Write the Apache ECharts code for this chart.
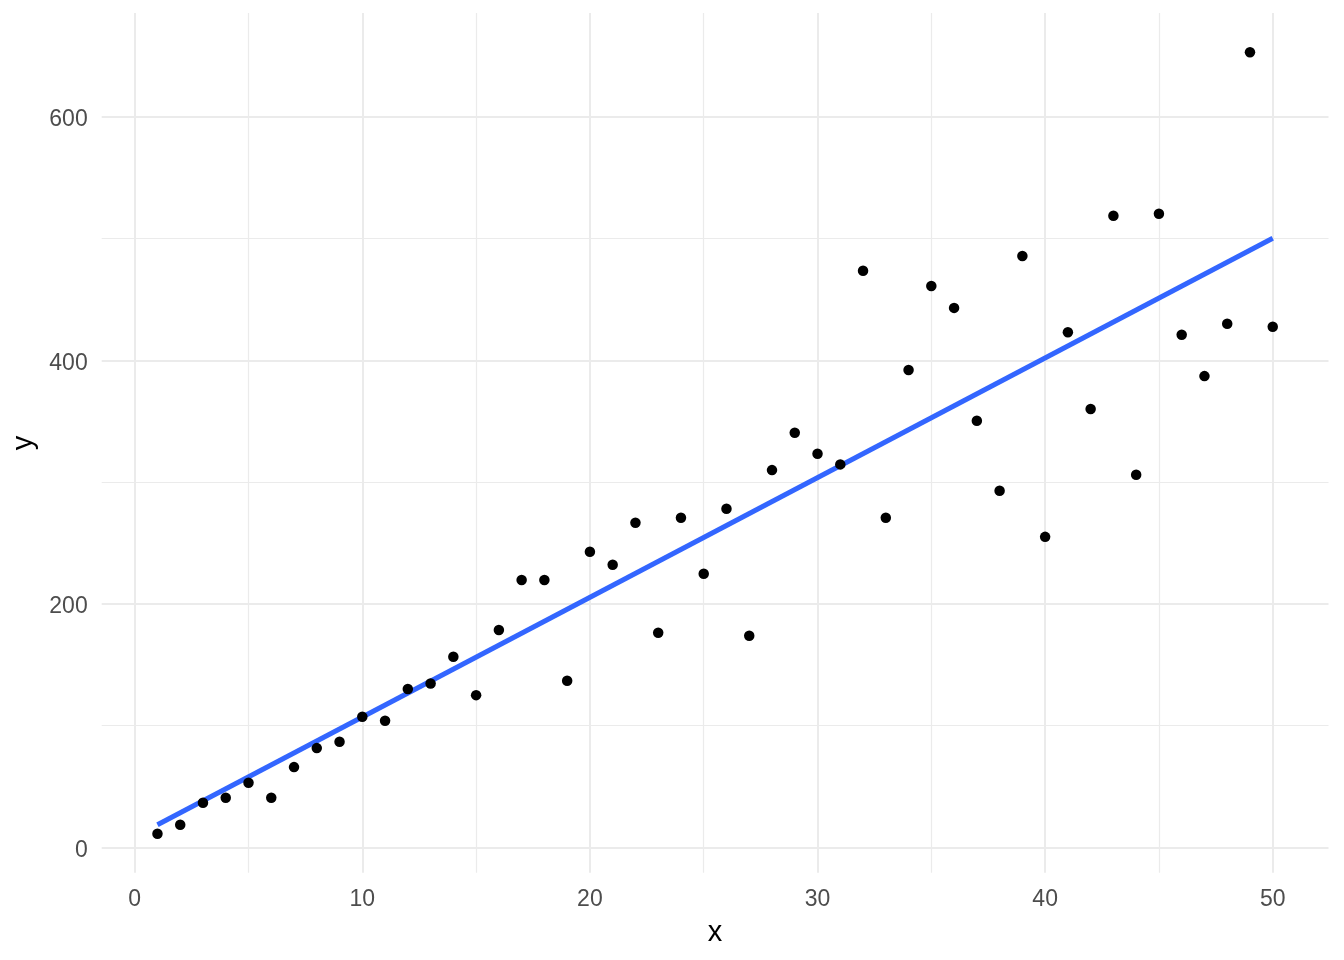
<!DOCTYPE html>
<html>
<head>
<meta charset="utf-8">
<script src="https://cdn.jsdelivr.net/npm/echarts@6/dist/echarts.min.js"></script>
<style>
  html, body { margin: 0; padding: 0; background: #fff; }
  #main { width: 1344px; height: 960px; }
</style>
</head>
<body>
<div id="main"></div>
<script>
// data
var xs = [1, 2, 3, 4, 5, 6, 7, 8, 9, 10,
  11, 12, 13, 14, 15, 16, 17, 18, 19, 20,
  21, 22, 23, 24, 25, 26, 27, 28, 29, 30,
  31, 32, 33, 34, 35, 36, 37, 38, 39, 40,
  41, 42, 43, 44, 45, 46, 47, 48, 49, 50];
var ys = [11.2, 18.6, 36.6, 40.7, 53.1, 40.7, 65.9, 81.5, 86.7, 107.3,
  104, 130, 134.5, 156.5, 125, 178.5, 219.5, 219.5, 136.8, 242.8,
  232.1, 266.6, 176.2, 270.7, 224.7, 278.1, 173.8, 309.8, 340.5, 323.3,
  314.5, 473.5, 270.7, 392, 461, 443, 350.3, 292.9, 485.6, 255,
  423, 360, 518.7, 306, 520.3, 421, 387, 430, 653, 427.5];

var xTicks = [0, 10, 20, 30, 40, 50];
var xMinor = [5, 15, 25, 35, 45];
var yTicks = [0, 200, 400, 600];
var yMinor = [100, 300, 500];

// least squares fit, like geom_smooth(method = "lm")
var n = xs.length, sx = 0, sy = 0, sxx = 0, sxy = 0;
for (var i = 0; i < n; i++) {
  sx += xs[i]; sy += ys[i];
  sxx += xs[i] * xs[i]; sxy += xs[i] * ys[i];
}
var slope = (n * sxy - sx * sy) / (n * sxx - sx * sx);
var icpt = (sy - slope * sx) / n;
var xLo = Math.min.apply(null, xs), xHi = Math.max.apply(null, xs);
var fit = [[xLo, icpt + slope * xLo], [xHi, icpt + slope * xHi]];

// ggplot-style 5% expansion
var yLo = Math.min.apply(null, ys), yHi = Math.max.apply(null, ys);
var xPad = (xHi - xLo) * 0.05, yPad = (yHi - yLo) * 0.05;

var pts = [];
for (var j = 0; j < n; j++) pts.push([xs[j], ys[j]]);

var major = { color: '#EBEBEB', width: 2, type: 'solid' };
var minor = { color: '#EBEBEB', width: 1.2, type: 'solid' };
var gridLines = [];
xTicks.forEach(function (v) { gridLines.push({ xAxis: v, lineStyle: major }); });
xMinor.forEach(function (v) { gridLines.push({ xAxis: v, lineStyle: minor }); });
yTicks.forEach(function (v) { gridLines.push({ yAxis: v, lineStyle: major }); });
yMinor.forEach(function (v) { gridLines.push({ yAxis: v, lineStyle: minor }); });

var font = '"Liberation Sans", Arial, sans-serif';
var chart = echarts.init(document.getElementById('main'));
chart.setOption({
  animation: false,
  backgroundColor: '#fff',
  grid: { left: 101.7, right: 15.5, top: 13.1, bottom: 87.2 },
  xAxis: {
    type: 'value',
    min: xLo - xPad, max: xHi + xPad,
    name: 'x', nameLocation: 'middle', nameGap: 46,
    nameTextStyle: { fontFamily: font, fontSize: 29, color: '#000' },
    axisLine: { show: false }, axisTick: { show: false },
    splitLine: { show: false },
    axisLabel: {
      customValues: xTicks, margin: 15,
      fontFamily: font, fontSize: 23, color: '#4D4D4D'
    }
  },
  yAxis: {
    type: 'value',
    min: yLo - yPad, max: yHi + yPad,
    name: 'y', nameLocation: 'middle', nameGap: 55,
    nameTextStyle: { fontFamily: font, fontSize: 29, color: '#000' },
    axisLine: { show: false }, axisTick: { show: false },
    splitLine: { show: false },
    axisLabel: {
      customValues: yTicks, margin: 14,
      formatter: '{t|{value}}',
      rich: { t: { fontFamily: font, fontSize: 23, color: '#4D4D4D', padding: [6, 0, 0, 0] } }
    }
  },
  series: [
    {
      type: 'scatter', data: [], z: 1, silent: true,
      markLine: { z: 1, silent: true, symbol: 'none', label: { show: false }, data: gridLines }
    },
    {
      type: 'line', data: fit, z: 10,
      showSymbol: false, symbol: 'none',
      lineStyle: { color: '#3366FF', width: 5 }
    },
    {
      type: 'scatter', data: pts, z: 11,
      symbol: 'circle', symbolSize: 10.5,
      itemStyle: { color: '#000', opacity: 1 }
    }
  ]
});
</script>
</body>
</html>
